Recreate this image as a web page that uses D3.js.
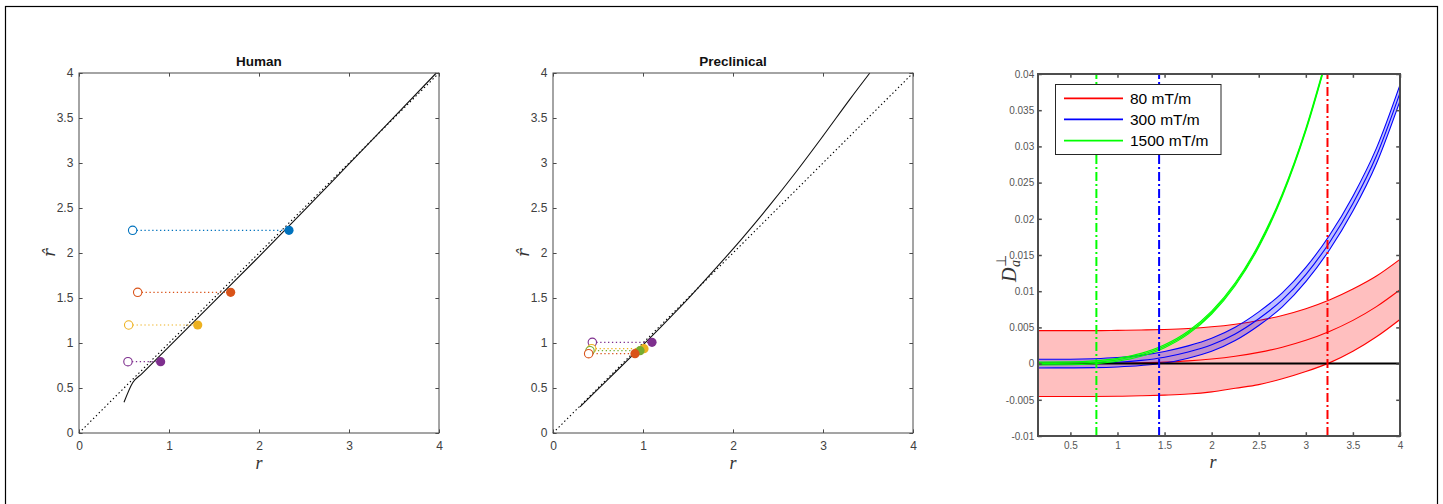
<!DOCTYPE html>
<html><head><meta charset="utf-8">
<script src="https://cdn.jsdelivr.net/npm/d3@7"></script>
<style>
html,body{margin:0;padding:0;background:#fff;}
svg{display:block;font-family:"Liberation Sans",Arial,sans-serif;}
</style></head><body>
<svg id="c" width="1443" height="504"></svg>
<script>
// ---------- DATA ----------
// Panel 1: Human
const humanLineR    = [0.5, 0.596, 0.7, 1.0, 1.5, 2.0, 2.5, 3.0, 3.5, 3.97];
const humanLineRhat = [0.341, 0.559, 0.66, 0.96, 1.46, 1.96, 2.47, 2.99, 3.51, 4.0];
const humanColors   = ["#0072BD", "#D95319", "#EDB120", "#7E2F8E"];
const humanOpenR    = [0.596, 0.652, 0.552, 0.544];
const humanFilledR  = [2.333, 1.685, 1.319, 0.907];
const humanRhat     = [2.252, 1.563, 1.2, 0.793];
// Panel 2: Preclinical
const preLineR    = [0.3, 0.6, 0.9, 1.2, 1.5, 1.8, 2.1, 2.4, 2.7, 3.0, 3.3, 3.52];
const preLineRhat = [0.29, 0.585, 0.88, 1.18, 1.49, 1.82, 2.16, 2.52, 2.90, 3.30, 3.71, 4.0];
const preColors   = ["#7E2F8E", "#EDB120", "#77AC30", "#D95319"];
const preOpenR    = [0.437, 0.43, 0.411, 0.396];
const preFilledR  = [1.1, 1.011, 0.967, 0.911];
const preRhat     = [1.008, 0.937, 0.915, 0.881];
// Panel 1/2 ticks
const rTicks    = [0, 1, 2, 3, 4];
const rhatTicks = [0, 0.5, 1, 1.5, 2, 2.5, 3, 3.5, 4];
const rhatTickLabels = ["0", "0.5", "1", "1.5", "2", "2.5", "3", "3.5", "4"];
// Panel 3: D_a perp vs r
const rGrid   = [0.156, 0.5, 0.75, 1.0, 1.25, 1.5, 1.75, 2.0, 2.25, 2.5, 2.75, 3.0, 3.25, 3.5, 3.75, 4.0];
const red80Mid = [0, 0.0, 0.00001, 0.00004, 0.0001, 0.0002, 0.00037, 0.00064, 0.00102, 0.00155, 0.00227, 0.00322, 0.00444, 0.00597, 0.00787, 0.0102];
const red80Hi  = [0.00455, 0.00455, 0.00455, 0.00459, 0.00464, 0.00472, 0.00485, 0.00508, 0.00544, 0.00595, 0.00665, 0.00758, 0.00878, 0.0103, 0.0121, 0.0144];
const red80Lo  = [-0.00455, -0.00455, -0.00454, -0.00451, -0.00445, -0.00435, -0.0042, -0.0039, -0.0034, -0.0029, -0.0021, -0.0011, 0.0001, 0.0017, 0.0037, 0.0061];
const blue300Mid = [0, 0.00001, 0.00006, 0.00019, 0.00044, 0.00088, 0.0016, 0.0026, 0.0041, 0.0062, 0.0088, 0.0123, 0.0167, 0.0221, 0.0287, 0.0374];
const blue300Hi  = [0.0006, 0.00061, 0.00068, 0.00084, 0.00114, 0.00168, 0.00245, 0.0035, 0.00502, 0.00714, 0.00976, 0.01328, 0.0177, 0.02313, 0.02976, 0.0385];
const blue300Lo  = [-0.0006, -0.00059, -0.00056, -0.00046, -0.00026, 0.00008, 0.00075, 0.0017, 0.00318, 0.00526, 0.00784, 0.01132, 0.0157, 0.02107, 0.02764, 0.0363];
const greenR      = [0.156, 0.5, 0.75, 1.0, 1.25, 1.5, 1.75, 2.0, 2.25, 2.5, 2.75, 3.0, 3.25];
const green1500Mid = [0, 0.00004, 0.00018, 0.00052, 0.00121, 0.0024, 0.00427, 0.00705, 0.01096, 0.01628, 0.02327, 0.0323, 0.0435];
const green1500Hi  = [0.0002, 0.00024, 0.00038, 0.00072, 0.00141, 0.0026, 0.00447, 0.00725, 0.01116, 0.01648, 0.02347, 0.0325, 0.0437];
const green1500Lo  = [-0.0002, -0.00016, -0.00002, 0.00032, 0.00101, 0.0022, 0.00407, 0.00685, 0.01076, 0.01608, 0.02307, 0.0321, 0.0433];
const thresholdR   = [0.776, 1.442, 3.23];   // green, blue, red
const legendLabels = ["80 mT/m", "300 mT/m", "1500 mT/m"];
const p3XTicks = [0.5, 1, 1.5, 2, 2.5, 3, 3.5, 4];
const p3XTickLabels = ["0.5", "1", "1.5", "2", "2.5", "3", "3.5", "4"];
const p3YTicks = [-0.01, -0.005, 0, 0.005, 0.01, 0.015, 0.02, 0.025, 0.03, 0.035, 0.04];
const p3YTickLabels = ["-0.01", "-0.005", "0", "0.005", "0.01", "0.015", "0.02", "0.025", "0.03", "0.035", "0.04"];

// ---------- DRAW ----------
const svg = d3.select("#c");
svg.append("rect").attr("x", 5.5).attr("y", 6.5).attr("width", 1432).attr("height", 540)
  .attr("fill", "none").attr("stroke", "#000").attr("stroke-width", 1.2);

function framedAxes(g, x, y, opt) {
  const [x0, x1] = x.range(), [y1, y0] = y.range();
  const bottom = d3.axisBottom(x).tickValues(opt.xt).tickFormat((d, i) => opt.xl[i]).tickSizeInner(-opt.tick).tickSizeOuter(0).tickPadding(opt.xpad);
  const top = d3.axisTop(x).tickValues(opt.xt).tickFormat("").tickSizeInner(-opt.tick).tickSizeOuter(0);
  const left = d3.axisLeft(y).tickValues(opt.yt).tickFormat((d, i) => opt.yl[i]).tickSizeInner(-opt.tick).tickSizeOuter(0).tickPadding(opt.ypad);
  const right = d3.axisRight(y).tickValues(opt.yt).tickFormat("").tickSizeInner(-opt.tick).tickSizeOuter(0);
  const ax = g.append("g");
  ax.append("g").attr("transform", `translate(0,${y1})`).call(bottom);
  ax.append("g").attr("transform", `translate(0,${y0})`).call(top);
  ax.append("g").attr("transform", `translate(${x0},0)`).call(left);
  ax.append("g").attr("transform", `translate(${x1},0)`).call(right);
  ax.selectAll(".domain").remove();
  ax.selectAll(".tick line").attr("stroke", opt.color).attr("stroke-width", opt.tw);
  ax.selectAll(".tick text").attr("fill", opt.tcolor).attr("font-size", opt.fs)
    .attr("font-family", '"Liberation Sans", Arial, sans-serif');
  g.append("rect").attr("x", x0).attr("y", y0).attr("width", x1 - x0).attr("height", y1 - y0)
    .attr("fill", "none").attr("stroke", opt.color).attr("stroke-width", opt.sw);
}

function scatterPanel(x0, title, lineR, lineRh, colors, openR, filledR, rh, yLabX, curve) {
  const x = d3.scaleLinear().domain([0, 4]).range([x0, x0 + 360]);
  const y = d3.scaleLinear().domain([0, 4]).range([433, 73]);
  const g = svg.append("g");
  // diagonal dotted
  g.append("path").attr("d", d3.line()([[x(0), y(0)], [x(4), y(4)]]))
    .attr("stroke", "#000").attr("stroke-width", 1.1).attr("stroke-dasharray", "1.4,2.6").attr("fill", "none");
  // solid curve
  const pts = lineR.map((r, i) => [r, lineRh[i]]);
  g.append("path").datum(pts)
    .attr("d", d3.line().x(d => x(d[0])).y(d => y(d[1])).curve(curve))
    .attr("stroke", "#111").attr("stroke-width", 1.1).attr("fill", "none");
  // connectors and markers
  colors.forEach((c, i) => {
    g.append("line").attr("x1", x(openR[i]) + 4).attr("x2", x(filledR[i])).attr("y1", y(rh[i])).attr("y2", y(rh[i]))
      .attr("stroke", c).attr("stroke-width", 1.2).attr("stroke-dasharray", "1.3,2.6");
  });
  colors.forEach((c, i) => {
    g.append("circle").attr("cx", x(openR[i])).attr("cy", y(rh[i])).attr("r", 4.2)
      .attr("fill", "#fff").attr("stroke", c).attr("stroke-width", 1.1);
    g.append("circle").attr("cx", x(filledR[i])).attr("cy", y(rh[i])).attr("r", 4.6).attr("fill", c);
  });
  framedAxes(g, x, y, {xt: rTicks, xl: rTicks.map(String), yt: rhatTicks, yl: rhatTickLabels,
    tick: 3.6, xpad: 8.8, ypad: 5.7, color: "#4a4a4a", tcolor: "#404040", fs: 12, sw: 1, tw: 1});
  g.append("text").attr("x", x0 + 180).attr("y", 66).attr("text-anchor", "middle")
    .attr("font-weight", "bold").attr("font-size", 13.5).attr("fill", "#111").text(title);
  g.append("text").attr("x", x0 + 180).attr("y", 469).attr("text-anchor", "middle")
    .attr("font-family", '"Liberation Serif", serif').attr("font-style", "italic").attr("font-size", 18)
    .attr("fill", "#333").text("r");
  g.append("text").attr("transform", `translate(${yLabX},253) rotate(-90)`).attr("text-anchor", "middle")
    .attr("font-family", '"DejaVu Serif", serif').attr("font-style", "italic").attr("font-size", 17)
    .attr("fill", "#333").text("r\u0302");
}
scatterPanel(79, "Human", humanLineR, humanLineRhat, humanColors, humanOpenR, humanFilledR, humanRhat, 55, d3.curveMonotoneX);
scatterPanel(553, "Preclinical", preLineR, preLineRhat, preColors, preOpenR, preFilledR, preRhat, 529, d3.curveCatmullRom);

// Panel 3
(function () {
  const x = d3.scaleLinear().domain([0.156, 4]).range([1038, 1400]);
  const y = d3.scaleLinear().domain([-0.01, 0.04]).range([436, 74]);
  const g = svg.append("g");
  svg.append("defs").append("clipPath").attr("id", "p3clip").append("rect")
    .attr("x", 1038).attr("y", 74).attr("width", 362).attr("height", 362);
  const pg = g.append("g").attr("clip-path", "url(#p3clip)");
  function band(rs, lo, mid, hi, col) {
    const area = d3.area().x((d, i) => x(rs[i])).y0((d, i) => y(lo[i])).y1((d, i) => y(hi[i])).curve(d3.curveMonotoneX);
    pg.append("path").attr("d", area(rs)).attr("fill", col).attr("fill-opacity", 0.25).attr("stroke", "none");
    [lo, mid, hi].forEach(arr => {
      const ln = d3.line().x((d, i) => x(rs[i])).y((d, i) => y(arr[i])).curve(d3.curveMonotoneX);
      pg.append("path").attr("d", ln(rs)).attr("fill", "none").attr("stroke", col).attr("stroke-width", 1.1);
    });
  }
  band(rGrid, red80Lo, red80Mid, red80Hi, "#ff0000");
  band(rGrid, blue300Lo, blue300Mid, blue300Hi, "#0000ff");
  pg.append("line").attr("x1", x(0.156)).attr("x2", x(4)).attr("y1", y(0)).attr("y2", y(0))
    .attr("stroke", "#000").attr("stroke-width", 2);
  band(greenR, green1500Lo, green1500Mid, green1500Hi, "#00ff00");
  const tcols = ["#00ff00", "#0000ff", "#ff0000"];
  thresholdR.forEach((r, i) => {
    pg.append("line").attr("x1", x(r)).attr("x2", x(r)).attr("y1", y(-0.01)).attr("y2", y(0.04))
      .attr("stroke", tcols[i]).attr("stroke-width", 2).attr("stroke-dasharray", "9,3,2,3");
  });
  framedAxes(g, x, y, {xt: p3XTicks, xl: p3XTickLabels, yt: p3YTicks, yl: p3YTickLabels,
    tick: 3.8, xpad: 6, ypad: 3.8, color: "#4d4d4d", tcolor: "#555", fs: 10, sw: 2, tw: 1.5});
  // legend
  const lg = g.append("g");
  lg.append("rect").attr("x", 1055.5).attr("y", 84.5).attr("width", 165.5).attr("height", 70)
    .attr("fill", "#fff").attr("stroke", "#262626").attr("stroke-width", 1);
  const lcols = ["#ff0000", "#0000ff", "#00ff00"];
  const lys = [98.3, 119.3, 140.7];
  legendLabels.forEach((t, i) => {
    lg.append("line").attr("x1", 1064).attr("x2", 1123).attr("y1", lys[i]).attr("y2", lys[i])
      .attr("stroke", lcols[i]).attr("stroke-width", 1.8);
    lg.append("text").attr("x", 1130).attr("y", lys[i] + 5.6).attr("font-size", 15.5).attr("fill", "#000").text(t);
  });
  // labels
  g.append("text").attr("x", 1213).attr("y", 468).attr("text-anchor", "middle")
    .attr("font-family", '"Liberation Serif", serif').attr("font-style", "italic").attr("font-size", 18)
    .attr("fill", "#333").text("r");
  const yl = g.append("g").attr("transform", "translate(1016,282) rotate(-90)")
    .attr("font-family", '"Liberation Serif", serif').attr("font-style", "italic").attr("fill", "#333");
  yl.append("text").attr("x", 0).attr("y", 0).attr("font-size", 20).text("D");
  yl.append("text").attr("x", 15).attr("y", 4).attr("font-size", 14).text("a");
  yl.append("text").attr("x", 15).attr("y", -10).attr("font-size", 14).attr("font-style", "normal").text("\u22A5");
})();
</script>
</body></html>
